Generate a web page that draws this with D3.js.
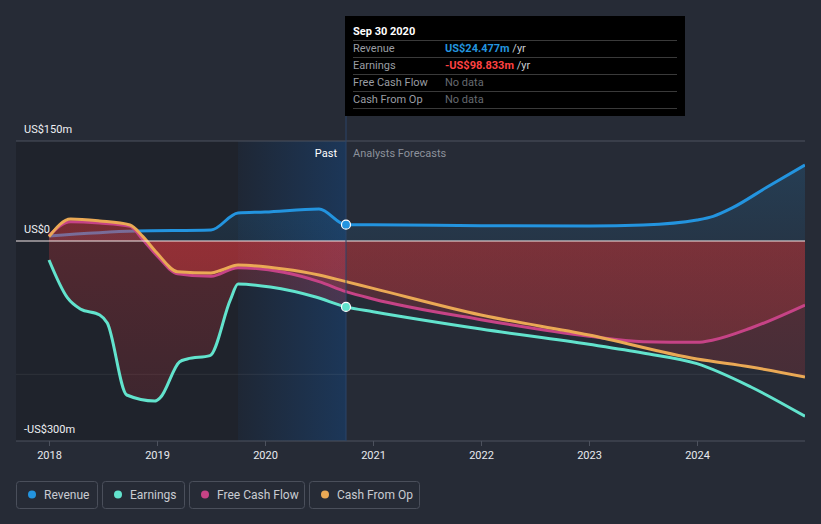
<!DOCTYPE html>
<html>
<head>
<meta charset="utf-8">
<script src="https://cdn.jsdelivr.net/npm/d3@7/dist/d3.min.js"></script>
<style>
  html, body { margin: 0; padding: 0; background: #262b36; }
  svg { display: block; font-family: Roboto, "Noto Sans", sans-serif; }
</style>
</head>
<body>
<svg id="chart" width="821" height="524"></svg>
<script>
// ---------- data (US$ millions, time in decimal years) ----------
const revenueYears  = [2018.0, 2018.8, 2019.5, 2019.75, 2020.0, 2020.5, 2020.75, 2021.0, 2022.0, 2023.0, 2023.5, 2024.0, 2024.15, 2024.33, 2024.65, 2025.0];
const revenueValues = [7.5, 15, 16.5, 42, 43.5, 48, 24.477, 24.5, 23, 22.5, 24, 31.5, 37, 50, 81, 114];

const earningsYears  = [2018.0, 2018.17, 2018.29, 2018.47, 2018.54, 2018.72, 2018.98, 2019.03, 2019.21, 2019.28, 2019.49, 2019.68, 2019.75, 2020.05, 2020.47, 2020.75, 2021.0, 2022.0, 2023.0, 2023.5, 2024.0, 2024.5, 2025.0];
const earningsValues = [-28.5, -85, -102, -111, -123, -231, -240, -235, -181, -177, -172, -88, -64.5, -69, -84, -98.833, -106, -132, -155, -168, -184, -219, -263];

const fcfYears  = [2018.0, 2018.2, 2018.47, 2018.75, 2018.87, 2019.0, 2019.19, 2019.5, 2019.75, 2020.17, 2020.5, 2020.75, 2021.0, 2022.0, 2023.0, 2023.5, 2024.0, 2024.15, 2024.5, 2025.0];
const fcfValues = [8, 29, 27, 22, 2, -22, -49, -53, -40, -47, -61, -76, -87, -118, -143, -151, -152, -148.5, -130.5, -96];

const cfoYears  = [2018.0, 2018.2, 2018.47, 2018.75, 2018.87, 2019.0, 2019.19, 2019.5, 2019.6, 2019.75, 2020.17, 2020.5, 2020.75, 2021.0, 2022.0, 2023.0, 2024.0, 2024.5, 2025.0];
const cfoValues = [6.5, 33, 30, 24, 6.5, -18, -46, -48, -43.5, -36, -42, -51, -61, -71, -111, -141, -177, -189, -204];

const yTickValues = [150, 0, -300];
const yTickLabels = ["US$150m", "US$0", "-US$300m"];
const yGridExtra  = [-200];
const xTickYears  = [2018, 2019, 2020, 2021, 2022, 2023, 2024];

const seriesNames  = ["Revenue", "Earnings", "Free Cash Flow", "Cash From Op"];
const seriesColors = ["#2394df", "#62e3cd", "#c64386", "#eaa955"];

const tooltipDate   = "Sep 30 2020";
const tooltipYear   = 2020.75;
const tooltipValues = ["US$24.477m", "-US$98.833m", "No data", "No data"];
const highlightStart = 2019.75;

// ---------- layout ----------
const svg = d3.select("#chart");
const W = 821, H = 524;
const plotLeft = 16, plotRight = 805, plotTop = 141, plotBottom = 441;

const x = d3.scaleLinear().domain([2018, 2025]).range([49, 805]);
const y = d3.scaleLinear().domain([-300, 150]).range([441, 141]);

svg.append("rect").attr("width", W).attr("height", H).attr("fill", "#262b36");

const defs = svg.append("defs");
const gBlue = defs.append("linearGradient").attr("id", "hl").attr("x1", 0).attr("x2", 1).attr("y1", 0).attr("y2", 0);
gBlue.append("stop").attr("offset", "0%").attr("stop-color", "#1565c0").attr("stop-opacity", 0.06);
gBlue.append("stop").attr("offset", "100%").attr("stop-color", "#1565c0").attr("stop-opacity", 0.3);

const gRed = defs.append("linearGradient").attr("id", "redFill").attr("gradientUnits", "userSpaceOnUse")
  .attr("x1", 0).attr("x2", 0).attr("y1", y(0)).attr("y2", y(-300));
gRed.append("stop").attr("offset", "0%").attr("stop-color", "#e8393d").attr("stop-opacity", 0.25);
gRed.append("stop").attr("offset", "100%").attr("stop-color", "#e8393d").attr("stop-opacity", 0.13);

const gRevFill = defs.append("linearGradient").attr("id", "revFill").attr("gradientUnits", "userSpaceOnUse")
  .attr("x1", 0).attr("x2", 0).attr("y1", y(150)).attr("y2", y(0));
gRevFill.append("stop").attr("offset", "0%").attr("stop-color", "#2394df").attr("stop-opacity", 0.2);
gRevFill.append("stop").attr("offset", "100%").attr("stop-color", "#2394df").attr("stop-opacity", 0.1);

defs.append("clipPath").attr("id", "pastClip").append("rect")
  .attr("x", plotLeft).attr("y", 0).attr("width", x(tooltipYear) - plotLeft).attr("height", H);
defs.append("clipPath").attr("id", "plotClip").append("rect")
  .attr("x", plotLeft).attr("y", 0).attr("width", plotRight - plotLeft).attr("height", H);

// past shading
svg.append("rect").attr("x", plotLeft).attr("y", plotTop)
  .attr("width", x(tooltipYear) - plotLeft).attr("height", plotBottom - plotTop)
  .attr("fill", "#000").attr("opacity", 0.17);
svg.append("rect").attr("x", x(highlightStart)).attr("y", plotTop)
  .attr("width", x(tooltipYear) - x(highlightStart)).attr("height", plotBottom - plotTop)
  .attr("fill", "url(#hl)");

// gridlines
svg.append("line").attr("x1", plotLeft).attr("x2", plotRight).attr("y1", y(150)).attr("y2", y(150))
  .attr("stroke", "#4d525e").attr("stroke-width", 1);
yGridExtra.forEach(v => svg.append("line").attr("x1", plotLeft).attr("x2", plotRight)
  .attr("y1", y(v)).attr("y2", y(v)).attr("stroke", "#ffffff").attr("stroke-opacity", 0.07));

// x axis
const xAxis = d3.axisBottom(x).tickValues(xTickYears).tickFormat(d3.format("d")).tickSize(5).tickPadding(5);
const ax = svg.append("g").attr("transform", `translate(0,${plotBottom})`).call(xAxis);
ax.select(".domain").remove();
ax.selectAll(".tick line").attr("stroke", "#4d525e");
ax.selectAll(".tick text").attr("fill", "#e8eaee").attr("font-size", 11).attr("font-family", "Roboto, sans-serif");
svg.append("line").attr("x1", plotLeft).attr("x2", plotRight).attr("y1", plotBottom).attr("y2", plotBottom)
  .attr("stroke", "#4d525e");

// y labels
yTickValues.forEach((v, i) => {
  svg.append("text").attr("x", 24).attr("y", y(v) - 8).attr("fill", "#eef0f3")
    .attr("font-size", 11).text(yTickLabels[i]);
});

// helpers
const toPts = (xs, vs) => xs.map((t, i) => [t, vs[i]]);
const line = d3.line().x(d => x(d[0])).y(d => y(d[1])).curve(d3.curveMonotoneX);
const area = d3.area().x(d => x(d[0])).y0(y(0)).y1(d => y(d[1])).curve(d3.curveMonotoneX);

const revPts = toPts(revenueYears, revenueValues);
const earnPts = toPts(earningsYears, earningsValues);
const fcfPts = toPts(fcfYears, fcfValues);
const cfoPts = toPts(cfoYears, cfoValues);

const plot = svg.append("g").attr("clip-path", "url(#plotClip)");

// revenue area + line
plot.append("path").datum(revPts).attr("d", area).attr("fill", "url(#revFill)");
plot.append("path").datum(revPts).attr("d", line).attr("fill", "none")
  .attr("stroke", seriesColors[0]).attr("stroke-width", 3);

// red areas
plot.append("path").datum(earnPts).attr("d", area).attr("fill", "url(#redFill)").attr("clip-path", "url(#pastClip)");
plot.append("path").datum(fcfPts).attr("d", area).attr("fill", "url(#redFill)");
plot.append("path").datum(cfoPts).attr("d", area).attr("fill", "url(#redFill)");

// lines
[[earnPts, 1], [fcfPts, 2], [cfoPts, 3]].forEach(([pts, i]) => {
  plot.append("path").datum(pts).attr("d", line).attr("fill", "none")
    .attr("stroke", seriesColors[i]).attr("stroke-width", 3);
});

// zero line
svg.append("line").attr("x1", plotLeft).attr("x2", plotRight).attr("y1", y(0)).attr("y2", y(0))
  .attr("stroke", "#f4e8e8").attr("stroke-width", 1.2);

// vertical marker line
svg.append("line").attr("x1", x(tooltipYear)).attr("x2", x(tooltipYear)).attr("y1", 116).attr("y2", plotBottom)
  .attr("stroke", "#2a4468").attr("stroke-width", 1);

// markers
svg.append("circle").attr("cx", x(tooltipYear)).attr("cy", y(revenueValues[revenueYears.indexOf(tooltipYear)]))
  .attr("r", 4.5).attr("fill", seriesColors[0]).attr("stroke", "#fff").attr("stroke-width", 1.2);
svg.append("circle").attr("cx", x(tooltipYear)).attr("cy", y(earningsValues[earningsYears.indexOf(tooltipYear)]))
  .attr("r", 4.5).attr("fill", seriesColors[1]).attr("stroke", "#fff").attr("stroke-width", 1.2);

// Past / Forecast labels
svg.append("text").attr("x", x(tooltipYear) - 9).attr("y", 157).attr("text-anchor", "end")
  .attr("fill", "#ffffff").attr("font-size", 11).text("Past");
svg.append("text").attr("x", x(tooltipYear) + 7).attr("y", 157)
  .attr("fill", "#8c919b").attr("font-size", 11).text("Analysts Forecasts");

// tooltip
const tt = svg.append("g");
tt.append("rect").attr("x", 345).attr("y", 16).attr("width", 340).attr("height", 100).attr("fill", "#000");
tt.append("text").attr("x", 353).attr("y", 35).attr("fill", "#fff").attr("font-size", 11)
  .attr("font-weight", "bold").text(tooltipDate);
const rowSep = [40.5, 57.5, 74.5, 91.5, 108.5];
rowSep.forEach(yy => tt.append("line").attr("x1", 353).attr("x2", 677).attr("y1", yy).attr("y2", yy)
  .attr("stroke", "#3a3a3a"));
const valColors = ["#2394df", "#ff4242", "#666a70", "#666a70"];
seriesNames.forEach((n, i) => {
  const yy = 52 + i * 17;
  tt.append("text").attr("x", 353).attr("y", yy).attr("fill", "#9a9da3").attr("font-size", 11).text(n);
  const t = tt.append("text").attr("x", 445).attr("y", yy).attr("font-size", 11);
  const isData = tooltipValues[i] !== "No data";
  t.append("tspan").attr("fill", valColors[i]).attr("font-weight", isData ? "bold" : "normal").text(tooltipValues[i]);
  if (isData) t.append("tspan").attr("fill", "#c9ccd1").text(" /yr");
});

// legend
const legendX = [16, 102, 189, 309];
const legendW = [82, 83, 116, 111];
seriesNames.forEach((n, i) => {
  const g = svg.append("g").attr("transform", `translate(${legendX[i]},481)`);
  g.append("rect").attr("x", 0.5).attr("y", 0.5).attr("width", legendW[i] - 1).attr("height", 27)
    .attr("rx", 3).attr("fill", "none").attr("stroke", "#4a4f5b");
  g.append("circle").attr("cx", 16).attr("cy", 13.5).attr("r", 4).attr("fill", seriesColors[i]);
  g.append("text").attr("x", 28).attr("y", 17.5).attr("fill", "#c9ccd2").attr("font-size", 12).text(n);
});
</script>
</body>
</html>
